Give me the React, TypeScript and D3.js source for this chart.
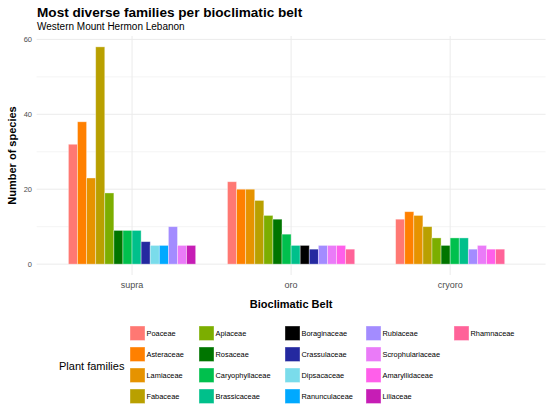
import React from "react";
import * as d3 from "d3";

const families = [
  "Poaceae", "Asteraceae", "Lamiaceae", "Fabaceae", "Apiaceae", "Rosaceae",
  "Caryophyllaceae", "Brassicaceae", "Boraginaceae", "Crassulaceae", "Dipsacaceae",
  "Ranunculaceae", "Rubiaceae", "Scrophulariaceae", "Amaryllidaceae", "Liliaceae", "Rhamnaceae",
];
const familyColors = [
  "#FF7873", "#FF8000", "#E69300", "#B9A000", "#7CAE00", "#007500",
  "#00C04D", "#00C08B", "#000000", "#2429A0", "#7ADCEB",
  "#00A9FF", "#A38CFF", "#EA7BF8", "#FF5FEA", "#C61DB5", "#FF6399",
];
const belts = ["supra", "oro", "cryoro"];
// values aligned with families; null = family not among the most diverse in that belt
const supraValues = [32, 38, 23, 58, 19, 9, 9, 9, null, 6, 5, 5, 10, 5, null, 5, null];
const oroValues = [22, 20, 20, 17, 13, 12, 8, 5, 5, 4, null, null, 5, 5, 5, null, 4];
const cryoroValues = [12, 14, 13, 10, 7, 5, 7, 7, null, null, null, null, 4, 5, 4, null, 4];
const beltValues = [supraValues, oroValues, cryoroValues];
const yTicks = [0, 20, 40, 60];
const yMinor = [10, 30, 50];

const W = 550;
const H = 409;
const panel = { left: 36.6, right: 545.6, top: 36, bottom: 275 };
const FONT = "'Liberation Sans', Arial, sans-serif";

export default function App() {
  const x = d3.scalePoint<string>().domain(belts).range([panel.left, panel.right]).padding(0.6);
  const y = d3.scaleLinear().domain([-2.9, 60.9]).range([panel.bottom, panel.top]);
  const step = x.step();
  const maxN = d3.max(beltValues, (v) => v.filter((d) => d != null).length) as number;
  const slot = (0.8 * step) / maxN;
  const color = d3.scaleOrdinal<string, string>().domain(families).range(familyColors);

  const bars: React.ReactNode[] = [];
  belts.forEach((b, bi) => {
    const vals = beltValues[bi];
    const present = families.filter((_, i) => vals[i] != null);
    const cx = x(b) as number;
    const inner = d3
      .scaleBand<string>()
      .domain(present)
      .range([cx - (present.length * slot) / 2, cx + (present.length * slot) / 2]);
    present.forEach((f) => {
      const v = vals[families.indexOf(f)] as number;
      bars.push(
        <rect
          key={b + f}
          x={inner(f)}
          y={y(v)}
          width={inner.bandwidth()}
          height={y(0) - y(v)}
          fill={color(f)}
          stroke="#ffffff"
          strokeOpacity={0.45}
          strokeWidth={0.8}
        />
      );
    });
  });

  const legendCols = [130, 199, 285, 366, 454];
  const legendRows = [326, 347, 368, 389];

  return (
    <svg width={W} height={H} style={{ position: "absolute", left: 0, top: 0 }} fontFamily={FONT}>
      <rect width={W} height={H} fill="#ffffff" />
      <text x={37} y={17} fontSize={13.6} fontWeight="bold" fill="#000">
        Most diverse families per bioclimatic belt
      </text>
      <text x={37} y={30} fontSize={10} fill="#000">
        Western Mount Hermon Lebanon
      </text>
      {yMinor.map((t) => (
        <line key={"m" + t} x1={panel.left} x2={panel.right} y1={y(t)} y2={y(t)} stroke="#EBEBEB" strokeWidth={0.5} />
      ))}
      {yTicks.map((t) => (
        <line key={"g" + t} x1={panel.left} x2={panel.right} y1={y(t)} y2={y(t)} stroke="#EBEBEB" strokeWidth={1} />
      ))}
      {belts.map((b) => (
        <line key={"v" + b} x1={x(b)} x2={x(b)} y1={panel.top} y2={panel.bottom} stroke="#EBEBEB" strokeWidth={1} />
      ))}
      {bars}
      {yTicks.map((t) => (
        <text key={"yt" + t} x={32} y={y(t)} dy="0.35em" textAnchor="end" fontSize={7.5} fill="#4D4D4D">
          {t}
        </text>
      ))}
      {belts.map((b) => (
        <text key={"xt" + b} x={x(b)} y={285} dy="0.35em" textAnchor="middle" fontSize={9} fill="#4D4D4D">
          {b}
        </text>
      ))}
      <text x={(panel.left + panel.right) / 2} y={304} dy="0.35em" textAnchor="middle" fontSize={11} fontWeight="bold" fill="#000">
        Bioclimatic Belt
      </text>
      <text
        transform={`translate(12,${(panel.top + panel.bottom) / 2}) rotate(-90)`}
        dy="0.35em"
        textAnchor="middle"
        fontSize={11}
        fontWeight="bold"
        fill="#000"
      >
        Number of species
      </text>
      <text x={59} y={366} dy="0.35em" fontSize={11} fill="#000">
        Plant families
      </text>
      {families.map((f, i) => {
        const c = Math.floor(i / 4);
        const r = i % 4;
        const lx = legendCols[c];
        const ly = legendRows[r];
        return (
          <g key={"lg" + f}>
            <rect x={lx} y={ly} width={15} height={14.5} fill={color(f)} stroke="#ffffff" strokeOpacity={0.45} strokeWidth={0.8} />
            <text x={lx + 16.5} y={ly + 7.3} dy="0.35em" fontSize={7.4} fill="#000">
              {f}
            </text>
          </g>
        );
      })}
    </svg>
  );
}
